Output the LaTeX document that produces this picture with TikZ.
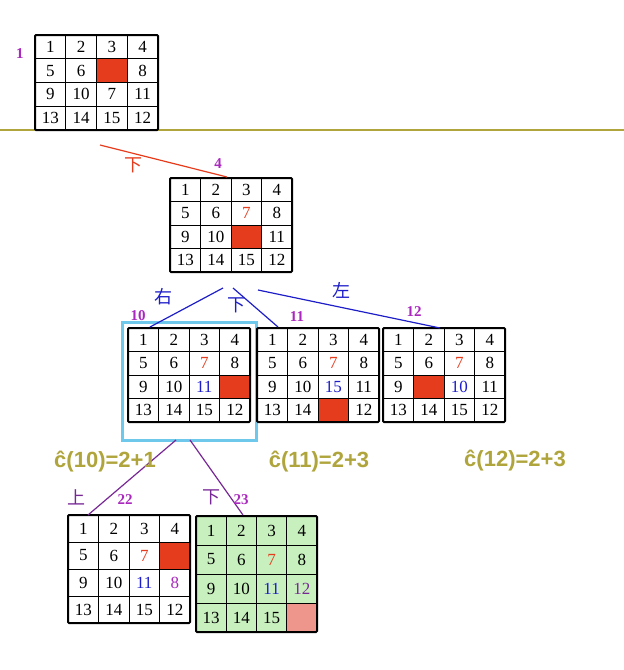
\documentclass[tikz,border=0pt]{standalone}
\usepackage{fontspec}
\setmainfont{Liberation Serif}
\newfontfamily\cjk{Noto Sans CJK SC}
\newfontfamily\sansb{Liberation Sans}
\definecolor{tred}{RGB}{230,60,30}
\definecolor{gold}{RGB}{175,165,60}
\definecolor{lblue}{RGB}{30,30,200}
\definecolor{pur}{RGB}{170,40,190}
\definecolor{lpur}{RGB}{120,40,150}
\definecolor{lgreen}{RGB}{200,240,190}
\definecolor{pink}{RGB}{238,150,140}
\definecolor{cyanh}{RGB}{110,200,235}
\newcommand\puz[5]{%
\begin{scope}[shift={(#1,#2)}]
\foreach \t/\c [count=\i from 0] in {#5} {
 \pgfmathtruncatemacro\col{mod(\i,4)}
 \pgfmathtruncatemacro\row{div(\i,4)}
 \node[text=\c,font=\fontsize{17}{17}\selectfont,inner sep=0pt] at ({(\col+0.5)*#3},{(\row+0.5)*#4}) {\t};}
\foreach \k in {1,2,3} {
 \draw[line width=0.7pt] ({\k*#3},0) -- ({\k*#3},{4*#4});
 \draw[line width=0.7pt] (0,{\k*#4}) -- ({4*#3},{\k*#4});}
\draw[line width=2pt,rounded corners=1pt] (0,0) rectangle ({4*#3},{4*#4});
\end{scope}}
\tikzset{num/.style={text=pur,font=\bfseries\fontsize{15}{15}\selectfont,inner sep=1pt},
 cjkl/.style={font=\cjk\fontsize{18}{18}\selectfont,inner sep=1pt},
 cost/.style={text=gold,font=\sansb\bfseries\fontsize{22}{22}\selectfont,inner sep=0pt}}
\begin{document}
\begin{tikzpicture}[x=1pt,y=-1pt]
\useasboundingbox (0,0) rectangle (624,670);
\fill[white] (0,0) rectangle (624,670);
\draw[gold,line width=1.5pt] (0,130) -- (624,130);
% fills
\fill[tred] (96.5,59) rectangle (127,83);
\fill[tred] (231,225) rectangle (261.5,249);
\fill[tred] (219.5,375) rectangle (250,399);
\fill[tred] (318,399) rectangle (348.5,422);
\fill[tred] (413.5,375) rectangle (444,399);
\fill[tred] (159.5,542) rectangle (190,569);
\fill[lgreen] (196,516) rectangle (317,632);
\fill[pink] (286.5,603) rectangle (317,632);
% highlight
\draw[cyanh,line width=3pt] (122,322) rectangle (256,440);
\puz{35}{35}{30.75}{23.75}{1/black,2/black,3/black,4/black,5/black,6/black,{}/black,8/black,9/black,10/black,7/black,11/black,13/black,14/black,15/black,12/black}
\puz{170}{178}{30.5}{23.5}{1/black,2/black,3/black,4/black,5/black,6/black,7/tred,8/black,9/black,10/black,{}/black,11/black,13/black,14/black,15/black,12/black}
\puz{128}{328}{30.5}{23.5}{1/black,2/black,3/black,4/black,5/black,6/black,7/tred,8/black,9/black,10/black,11/lblue,{}/black,13/black,14/black,15/black,12/black}
\puz{257}{328}{30.5}{23.5}{1/black,2/black,3/black,4/black,5/black,6/black,7/tred,8/black,9/black,10/black,15/lblue,11/black,13/black,14/black,{}/black,12/black}
\puz{383}{328}{30.5}{23.5}{1/black,2/black,3/black,4/black,5/black,6/black,7/tred,8/black,9/black,{}/black,10/lblue,11/black,13/black,14/black,15/black,12/black}
\puz{68}{515}{30.5}{27}{1/black,2/black,3/black,4/black,5/black,6/black,7/tred,{}/black,9/black,10/black,11/lblue,8/pur,13/black,14/black,15/black,12/black}
\puz{196}{516}{30.25}{29}{1/black,2/black,3/black,4/black,5/black,6/black,7/tred,8/black,9/black,10/black,11/lblue,12/lpur,13/black,14/black,15/black,{}/black}
% connector ends
\coordinate (a1) at (100,145); \coordinate (g4) at (227,177);
\coordinate (b0) at (223,288); \coordinate (g10) at (150,327);
\coordinate (b1) at (233,288); \coordinate (g11) at (278,327);
\coordinate (b2) at (258,290); \coordinate (g12) at (440,328);
\coordinate (c0) at (176,440); \coordinate (g22) at (88,515);
\coordinate (c1) at (190,440); \coordinate (g23) at (243,515);
\draw[tred,line width=1.2pt] (a1) -- (g4);
\draw[lblue,line width=1.2pt] (b0) -- (g10);
\draw[lblue,line width=1.2pt] (b1) -- (g11);
\draw[lblue,line width=1.2pt] (b2) -- (g12);
\draw[lpur,line width=1.2pt] (c0) -- (g22);
\draw[lpur,line width=1.2pt] (c1) -- (g23);
% labels
\node[num] (n1) at (20,54) {1};
\node[num] (n4) at (218,164) {4};
\node[num] (n10) at (138,316) {10};
\node[num] (n11) at (297,317) {11};
\node[num] (n12) at (414,312) {12};
\node[num] (n22) at (125,500) {22};
\node[num] (n23) at (241,500) {23};
\node[cjkl,text=tred] (l1) at (133,165) {下};
\node[cjkl,text=lblue] (l2) at (163,297) {右};
\node[cjkl,text=lblue] (l3) at (236,305) {下};
\node[cjkl,text=lblue] (l4) at (341,290) {左};
\node[cjkl,text=lpur] (l5) at (76,497) {上};
\node[cjkl,text=lpur] (l6) at (211,497) {下};
\node[cost] (c10) at (105,462) {ĉ(10)=2+1};
\node[cost] (c11) at (319,462) {ĉ(11)=2+3};
\node[cost] (c12) at (515,461) {ĉ(12)=2+3};
\end{tikzpicture}
\end{document}
